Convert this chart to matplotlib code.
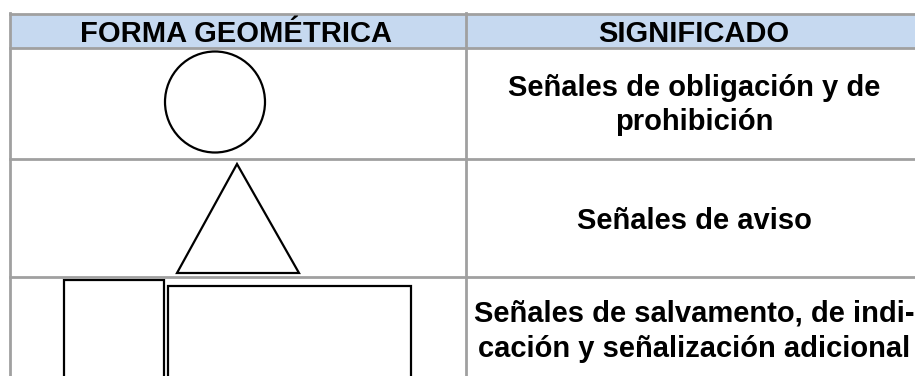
import matplotlib
matplotlib.use("Agg")
import matplotlib.pyplot as plt
from matplotlib.patches import Rectangle, Ellipse, Polygon

# Table content
headers = ["FORMA GEOMÉTRICA", "SIGNIFICADO"]
meanings = [
    ["Señales de obligación y de", "prohibición"],
    ["Señales de aviso"],
    ["Señales de salvamento, de indi-", "cación y señalización adicional"],
]
shapes = ["circle", "triangle", "rectangles"]

W, H = 915, 376
fig = plt.figure(figsize=(W / 100, H / 100), dpi=100)
ax = fig.add_axes([0, 0, 1, 1])
ax.set_xlim(0, W)
ax.set_ylim(H, 0)
ax.axis("off")

FONT = "Liberation Sans"
FS = 21
grid = "#a0a0a0"
header_fill = "#c6d9f0"

x_left, x_mid, x_right = 10, 466, 925
y_top, y_head = 14, 48
row_bounds = [48, 159, 277, 390]

# header background
ax.add_patch(Rectangle((x_left, y_top), x_right - x_left, y_head - y_top,
                       facecolor=header_fill, edgecolor="none", zorder=0))
# grid lines
lw = 2.0
ax.plot([x_left, x_right], [y_top, y_top], color=grid, lw=lw)
for yb in row_bounds[:-1]:
    ax.plot([x_left, x_right], [yb, yb], color=grid, lw=lw)
ax.plot([x_left, x_left], [y_top - 1, H + 5], color=grid, lw=lw)
ax.plot([x_mid, x_mid], [y_top - 1, H + 5], color=grid, lw=lw)

col_centers = [236, 694]

# header texts
for text, xc in zip(headers, col_centers):
    ax.text(xc, 42, text, ha="center", va="baseline", fontsize=FS,
            fontweight="bold", family=FONT, color="black")

# meanings (one text per line, baselines)
baselines = [[96, 130], [229], [322, 357]]
for lines, bls in zip(meanings, baselines):
    for line, yb in zip(lines, bls):
        ax.text(col_centers[1], yb, line, ha="center", va="baseline",
                fontsize=FS, fontweight="bold", family=FONT, color="black")

# shapes
slw = 1.6
for kind in shapes:
    if kind == "circle":
        ax.add_patch(Ellipse((215, 102), 100, 101, facecolor="white",
                             edgecolor="black", lw=slw))
    elif kind == "triangle":
        ax.add_patch(Polygon([[237, 164], [177, 273], [299, 273]], closed=True,
                             facecolor="white", edgecolor="black", lw=slw))
    else:
        ax.add_patch(Rectangle((63.5, 279.5), 100.5, 110, facecolor="white",
                               edgecolor="black", lw=slw))
        ax.add_patch(Rectangle((168, 286), 243, 110, facecolor="white",
                               edgecolor="black", lw=slw))

fig.savefig("out.png", dpi=100)
